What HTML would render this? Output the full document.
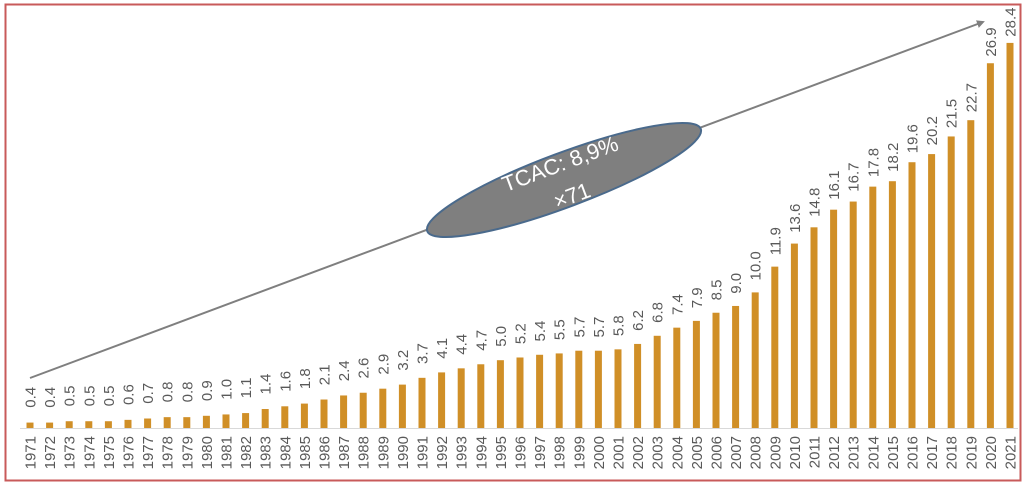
<!DOCTYPE html>
<html>
<head>
<meta charset="utf-8">
<style>
html,body{margin:0;padding:0;background:#fff;}
svg{display:block;}
.v{font-family:"Liberation Sans",Arial,sans-serif;font-size:15px;fill:#595959;}
.y{font-family:"Liberation Sans",Arial,sans-serif;font-size:15px;fill:#595959;text-anchor:end;}
</style>
</head>
<body>
<svg width="1024" height="484" viewBox="0 0 1024 484" xmlns="http://www.w3.org/2000/svg">
<defs>
<marker id="ar" markerWidth="8" markerHeight="8" refX="6" refY="4" orient="auto" markerUnits="userSpaceOnUse">
<path d="M0,0 L8,4 L0,8 z" fill="#7f7f7f"/>
</marker>
</defs>
<rect x="0" y="0" width="1024" height="484" fill="#fff"/>
<rect x="5.5" y="4.5" width="1015" height="476" fill="none" stroke="#c85a5a" stroke-width="2"/>
<line x1="20" y1="428.5" x2="1018" y2="428.5" stroke="#d9d9d9" stroke-width="1"/>

<g fill="#d08f27">
<rect x="26.5" y="422.58" width="7" height="5.42"/>
<rect x="46.1" y="422.58" width="7" height="5.42"/>
<rect x="65.7" y="421.22" width="7" height="6.78"/>
<rect x="85.3" y="421.22" width="7" height="6.78"/>
<rect x="104.9" y="421.22" width="7" height="6.78"/>
<rect x="124.5" y="419.86" width="7" height="8.14"/>
<rect x="144.1" y="418.51" width="7" height="9.49"/>
<rect x="163.7" y="417.15" width="7" height="10.85"/>
<rect x="183.3" y="417.15" width="7" height="10.85"/>
<rect x="202.9" y="415.8" width="7" height="12.2"/>
<rect x="222.5" y="414.44" width="7" height="13.56"/>
<rect x="242.1" y="413.08" width="7" height="14.92"/>
<rect x="261.7" y="409.02" width="7" height="18.98"/>
<rect x="281.3" y="406.3" width="7" height="21.7"/>
<rect x="300.9" y="403.59" width="7" height="24.41"/>
<rect x="320.5" y="399.52" width="7" height="28.48"/>
<rect x="340.1" y="395.46" width="7" height="32.54"/>
<rect x="359.7" y="392.74" width="7" height="35.26"/>
<rect x="379.3" y="388.68" width="7" height="39.32"/>
<rect x="398.9" y="384.61" width="7" height="43.39"/>
<rect x="418.5" y="377.83" width="7" height="50.17"/>
<rect x="438.1" y="372.4" width="7" height="55.6"/>
<rect x="457.7" y="368.34" width="7" height="59.66"/>
<rect x="477.3" y="364.27" width="7" height="63.73"/>
<rect x="496.9" y="360.2" width="7" height="67.8"/>
<rect x="516.5" y="357.49" width="7" height="70.51"/>
<rect x="536.1" y="354.78" width="7" height="73.22"/>
<rect x="555.7" y="353.42" width="7" height="74.58"/>
<rect x="575.3" y="350.71" width="7" height="77.29"/>
<rect x="594.9" y="350.71" width="7" height="77.29"/>
<rect x="614.5" y="349.35" width="7" height="78.65"/>
<rect x="634.1" y="343.93" width="7" height="84.07"/>
<rect x="653.7" y="335.79" width="7" height="92.21"/>
<rect x="673.3" y="327.66" width="7" height="100.34"/>
<rect x="692.9" y="320.88" width="7" height="107.12"/>
<rect x="712.5" y="312.74" width="7" height="115.26"/>
<rect x="732.1" y="305.96" width="7" height="122.04"/>
<rect x="751.7" y="292.4" width="7" height="135.6"/>
<rect x="771.3" y="266.64" width="7" height="161.36"/>
<rect x="790.9" y="243.58" width="7" height="184.42"/>
<rect x="810.5" y="227.31" width="7" height="200.69"/>
<rect x="830.1" y="209.68" width="7" height="218.32"/>
<rect x="849.7" y="201.55" width="7" height="226.45"/>
<rect x="869.3" y="186.63" width="7" height="241.37"/>
<rect x="888.9" y="181.21" width="7" height="246.79"/>
<rect x="908.5" y="162.22" width="7" height="265.78"/>
<rect x="928.1" y="154.09" width="7" height="273.91"/>
<rect x="947.7" y="136.46" width="7" height="291.54"/>
<rect x="967.3" y="120.19" width="7" height="307.81"/>
<rect x="986.9" y="63.24" width="7" height="364.76"/>
<rect x="1006.5" y="42.9" width="7" height="385.1"/>
</g>

<g class="v">
<text transform="translate(35.5,407.7) rotate(-90)">0.4</text>
<text transform="translate(55.1,407.7) rotate(-90)">0.4</text>
<text transform="translate(74.7,406.4) rotate(-90)">0.5</text>
<text transform="translate(94.3,406.4) rotate(-90)">0.5</text>
<text transform="translate(113.9,406.4) rotate(-90)">0.5</text>
<text transform="translate(133.5,405.05) rotate(-90)">0.6</text>
<text transform="translate(153.1,403.7) rotate(-90)">0.7</text>
<text transform="translate(172.7,402.4) rotate(-90)">0.8</text>
<text transform="translate(192.3,402.4) rotate(-90)">0.8</text>
<text transform="translate(211.9,401.1) rotate(-90)">0.9</text>
<text transform="translate(231.5,399.75) rotate(-90)">1.0</text>
<text transform="translate(251.1,398.4) rotate(-90)">1.1</text>
<text transform="translate(270.7,394.45) rotate(-90)">1.4</text>
<text transform="translate(290.3,391.8) rotate(-90)">1.6</text>
<text transform="translate(309.9,389.15) rotate(-90)">1.8</text>
<text transform="translate(329.5,385.2) rotate(-90)">2.1</text>
<text transform="translate(349.1,381.2) rotate(-90)">2.4</text>
<text transform="translate(368.7,378.55) rotate(-90)">2.6</text>
<text transform="translate(388.3,374.6) rotate(-90)">2.9</text>
<text transform="translate(407.9,370.6) rotate(-90)">3.2</text>
<text transform="translate(427.5,364.0) rotate(-90)">3.7</text>
<text transform="translate(447.1,358.7) rotate(-90)">4.1</text>
<text transform="translate(466.7,354.7) rotate(-90)">4.4</text>
<text transform="translate(486.3,350.7) rotate(-90)">4.7</text>
<text transform="translate(505.9,346.75) rotate(-90)">5.0</text>
<text transform="translate(525.5,344.1) rotate(-90)">5.2</text>
<text transform="translate(545.1,341.45) rotate(-90)">5.4</text>
<text transform="translate(564.7,340.1) rotate(-90)">5.5</text>
<text transform="translate(584.3,337.5) rotate(-90)">5.7</text>
<text transform="translate(603.9,337.5) rotate(-90)">5.7</text>
<text transform="translate(623.5,336.15) rotate(-90)">5.8</text>
<text transform="translate(643.1,330.85) rotate(-90)">6.2</text>
<text transform="translate(662.7,322.9) rotate(-90)">6.8</text>
<text transform="translate(682.3,314.95) rotate(-90)">7.4</text>
<text transform="translate(701.9,308.3) rotate(-90)">7.9</text>
<text transform="translate(721.5,300.4) rotate(-90)">8.5</text>
<text transform="translate(741.1,293.75) rotate(-90)">9.0</text>
<text transform="translate(760.7,280.5) rotate(-90)">10.0</text>
<text transform="translate(780.3,255.3) rotate(-90)">11.9</text>
<text transform="translate(799.9,232.8) rotate(-90)">13.6</text>
<text transform="translate(819.5,216.9) rotate(-90)">14.8</text>
<text transform="translate(839.1,199.7) rotate(-90)">16.1</text>
<text transform="translate(858.7,191.7) rotate(-90)">16.7</text>
<text transform="translate(878.3,177.15) rotate(-90)">17.8</text>
<text transform="translate(897.9,171.85) rotate(-90)">18.2</text>
<text transform="translate(917.5,153.3) rotate(-90)">19.6</text>
<text transform="translate(937.1,145.35) rotate(-90)">20.2</text>
<text transform="translate(956.7,128.1) rotate(-90)">21.5</text>
<text transform="translate(976.3,112.2) rotate(-90)">22.7</text>
<text transform="translate(995.9,56.6) rotate(-90)">26.9</text>
<text transform="translate(1015.5,36.7) rotate(-90)">28.4</text>
</g>

<g class="y">
<text transform="translate(35.5,436) rotate(-90)">1971</text>
<text transform="translate(55.1,436) rotate(-90)">1972</text>
<text transform="translate(74.7,436) rotate(-90)">1973</text>
<text transform="translate(94.3,436) rotate(-90)">1974</text>
<text transform="translate(113.9,436) rotate(-90)">1975</text>
<text transform="translate(133.5,436) rotate(-90)">1976</text>
<text transform="translate(153.1,436) rotate(-90)">1977</text>
<text transform="translate(172.7,436) rotate(-90)">1978</text>
<text transform="translate(192.3,436) rotate(-90)">1979</text>
<text transform="translate(211.9,436) rotate(-90)">1980</text>
<text transform="translate(231.5,436) rotate(-90)">1981</text>
<text transform="translate(251.1,436) rotate(-90)">1982</text>
<text transform="translate(270.7,436) rotate(-90)">1983</text>
<text transform="translate(290.3,436) rotate(-90)">1984</text>
<text transform="translate(309.9,436) rotate(-90)">1985</text>
<text transform="translate(329.5,436) rotate(-90)">1986</text>
<text transform="translate(349.1,436) rotate(-90)">1987</text>
<text transform="translate(368.7,436) rotate(-90)">1988</text>
<text transform="translate(388.3,436) rotate(-90)">1989</text>
<text transform="translate(407.9,436) rotate(-90)">1990</text>
<text transform="translate(427.5,436) rotate(-90)">1991</text>
<text transform="translate(447.1,436) rotate(-90)">1992</text>
<text transform="translate(466.7,436) rotate(-90)">1993</text>
<text transform="translate(486.3,436) rotate(-90)">1994</text>
<text transform="translate(505.9,436) rotate(-90)">1995</text>
<text transform="translate(525.5,436) rotate(-90)">1996</text>
<text transform="translate(545.1,436) rotate(-90)">1997</text>
<text transform="translate(564.7,436) rotate(-90)">1998</text>
<text transform="translate(584.3,436) rotate(-90)">1999</text>
<text transform="translate(603.9,436) rotate(-90)">2000</text>
<text transform="translate(623.5,436) rotate(-90)">2001</text>
<text transform="translate(643.1,436) rotate(-90)">2002</text>
<text transform="translate(662.7,436) rotate(-90)">2003</text>
<text transform="translate(682.3,436) rotate(-90)">2004</text>
<text transform="translate(701.9,436) rotate(-90)">2005</text>
<text transform="translate(721.5,436) rotate(-90)">2006</text>
<text transform="translate(741.1,436) rotate(-90)">2007</text>
<text transform="translate(760.7,436) rotate(-90)">2008</text>
<text transform="translate(780.3,436) rotate(-90)">2009</text>
<text transform="translate(799.9,436) rotate(-90)">2010</text>
<text transform="translate(819.5,436) rotate(-90)">2011</text>
<text transform="translate(839.1,436) rotate(-90)">2012</text>
<text transform="translate(858.7,436) rotate(-90)">2013</text>
<text transform="translate(878.3,436) rotate(-90)">2014</text>
<text transform="translate(897.9,436) rotate(-90)">2015</text>
<text transform="translate(917.5,436) rotate(-90)">2016</text>
<text transform="translate(937.1,436) rotate(-90)">2017</text>
<text transform="translate(956.7,436) rotate(-90)">2018</text>
<text transform="translate(976.3,436) rotate(-90)">2019</text>
<text transform="translate(995.9,436) rotate(-90)">2020</text>
<text transform="translate(1015.5,436) rotate(-90)">2021</text>
</g>

<line x1="30" y1="378" x2="983" y2="22" stroke="#7f7f7f" stroke-width="2" marker-end="url(#ar)"/>

<ellipse cx="564" cy="180" rx="146" ry="27" transform="rotate(-20.5 564 180)" fill="#7f7f7f" stroke="#4a6a8c" stroke-width="2"/>
<g transform="rotate(-20.5 564 180)" font-family="'Liberation Sans', Arial, sans-serif" font-size="22" fill="#ffffff" text-anchor="middle">
<text x="566" y="171">TCAC: 8,9%</text>
<text x="566" y="205">×71</text>
</g>
</svg>
</body>
</html>
